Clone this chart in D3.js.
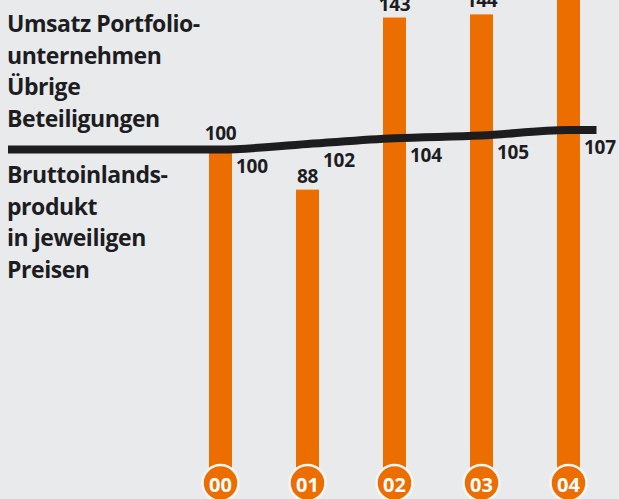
<!DOCTYPE html>
<html>
<head>
<meta charset="utf-8">
<script src="https://cdn.jsdelivr.net/npm/d3@7"></script>
<style>
  html, body { margin: 0; padding: 0; background: #e9eaec; }
  svg { display: block; }
  text { font-family: "Open Sans", sans-serif; font-weight: 700; }
</style>
</head>
<body>
<div id="chart"></div>
<script>
// data
const years = ["00", "01", "02", "03", "04"]
const umsatz = [100, 88, 143, 144, 160]   // 04 runs off the top, value not visible
const bip = [100, 102, 104, 105, 107]
const labelTop = ["Umsatz Portfolio-", "unternehmen", "Übrige", "Beteiligungen"]
const labelBottom = ["Bruttoinlands-", "produkt", "in jeweiligen", "Preisen"]

const W = 619, H = 499
const orange = "#ec6e00", ink = "#1d1d1f", bg = "#e9eaec"
const barW = 23, baseY = 465

const svg = d3.select("#chart").append("svg")
    .attr("width", W).attr("height", H)

svg.append("rect").attr("width", W).attr("height", H).attr("fill", bg)

const x = d3.scalePoint().domain(years).range([220.5, 568.5])
const yBar = d3.scaleLinear().domain([0, 148.6]).range([baseY, 0])
const yLine = d3.scaleLinear().domain([100, 107]).range([149.5, 130])

// bars
svg.append("g").selectAll("rect")
    .data(years)
    .join("rect")
    .attr("x", d => x(d) - barW / 2)
    .attr("y", (d, i) => yBar(umsatz[i]))
    .attr("width", barW)
    .attr("height", (d, i) => baseY + 4 - yBar(umsatz[i]))
    .attr("fill", orange)

// line, running in from the left edge and a bit past the last year
const pts = [[8, bip[0]]]
    .concat(years.map((d, i) => [x(d), bip[i]]))
    .concat([[x(years[years.length - 1]) + 28, bip[bip.length - 1]]])

const line = d3.line()
    .x(d => d[0])
    .y(d => yLine(d[1]))
    .curve(d3.curveMonotoneX)

svg.append("path")
    .attr("d", line(pts))
    .attr("fill", "none")
    .attr("stroke", ink)
    .attr("stroke-width", 8)

// bar value labels (lifted above the line when the bar top hides under it)
const barLabelY = i => {
    const top = yBar(umsatz[i]), ly = yLine(bip[i])
    return Math.abs(top - ly) < 10 ? ly - 10 : top - 7
}
svg.append("g").selectAll("text")
    .data(years)
    .join("text")
    .attr("x", d => x(d))
    .attr("y", (d, i) => barLabelY(i))
    .attr("text-anchor", "middle")
    .attr("font-size", 19)
    .attr("letter-spacing", -0.3)
    .attr("fill", ink)
    .text((d, i) => umsatz[i])

// line value labels
svg.append("g").selectAll("text")
    .data(years)
    .join("text")
    .attr("x", d => x(d) + barW / 2 + 4)
    .attr("y", (d, i) => yLine(bip[i]) + 23.5)
    .attr("font-size", 19)
    .attr("letter-spacing", -0.3)
    .attr("fill", ink)
    .text((d, i) => bip[i])

// year badges
const badge = svg.append("g").selectAll("g")
    .data(years)
    .join("g")
    .attr("transform", d => `translate(${x(d)},483)`)

badge.append("circle")
    .attr("r", 18)
    .attr("fill", orange)
    .attr("stroke", "#f6f6f6")
    .attr("stroke-width", 2.5)

badge.append("text")
    .attr("y", 8.5)
    .attr("text-anchor", "middle")
    .attr("font-size", 20)
    .attr("fill", "#fff")
    .text(d => d)

// legend texts on the left
svg.append("text")
    .attr("font-size", 23).attr("fill", ink)
    .attr("letter-spacing", -0.45)
    .selectAll("tspan")
    .data(labelTop)
    .join("tspan")
    .attr("x", 7)
    .attr("y", (d, i) => 32 + i * 31.6)
    .text(d => d)

svg.append("text")
    .attr("font-size", 23).attr("fill", ink)
    .attr("letter-spacing", -0.45)
    .selectAll("tspan")
    .data(labelBottom)
    .join("tspan")
    .attr("x", 7)
    .attr("y", (d, i) => 183 + i * 31.7)
    .text(d => d)
</script>
</body>
</html>
